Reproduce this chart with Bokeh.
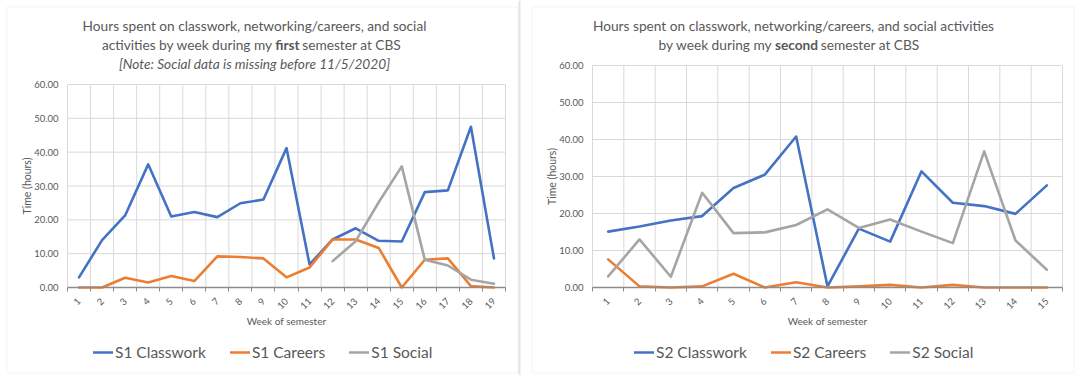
import math
from bokeh.plotting import figure
from bokeh.models import (FixedTicker, NumeralTickFormatter, Legend, LegendItem, Range1d,
                          LinearAxis, Label, BoxAnnotation)
from bokeh.embed import file_html
from bokeh.resources import INLINE

nan = float("nan")

# ---------------- data ----------------
s1_weeks = list(range(1, 20))
s1_classwork = [3.0, 14.0, 21.3, 36.4, 21.0, 22.3, 20.8, 24.9, 26.0, 41.2, 6.8, 14.2, 17.5, 13.8, 13.6, 28.2, 28.7, 47.5, 8.6]
s1_careers = [0.0, 0.0, 2.9, 1.5, 3.4, 1.9, 9.2, 9.0, 8.6, 3.0, 5.9, 14.2, 14.2, 11.7, 0.0, 8.2, 8.6, 0.4, 0.0]
s1_social = [nan, nan, nan, nan, nan, nan, nan, nan, nan, nan, nan, 7.8, 13.7, 25.2, 35.8, 8.2, 6.5, 2.3, 1.1]

s2_weeks = list(range(1, 16))
s2_classwork = [15.1, 16.5, 18.1, 19.3, 26.9, 30.5, 40.8, 0.3, 15.9, 12.4, 31.4, 22.9, 22.0, 19.9, 27.6]
s2_careers = [7.6, 0.3, 0.0, 0.3, 3.7, 0.0, 1.4, 0.0, 0.3, 0.7, 0.0, 0.7, 0.0, 0.0, 0.0]
s2_social = [3.0, 13.0, 2.9, 25.6, 14.7, 14.9, 16.9, 21.1, 16.1, 18.4, 15.1, 12.0, 36.8, 12.7, 4.8]

y_ticks = [0, 10, 20, 30, 40, 50, 60]
y_max = 60

s1_names = ["S1 Classwork", "S1 Careers", "S1 Social"]
s2_names = ["S2 Classwork", "S2 Careers", "S2 Social"]

s1_title_1 = "Hours spent on classwork, networking/careers, and social"
s1_title_2 = ["activities by week during my", "first", "semester at CBS"]
s1_title_3 = "[Note: Social data is missing before 11/5/2020]"
s2_title_1 = "Hours spent on classwork, networking/careers, and social activities"
s2_title_2 = ["by week during my", "second", "semester at CBS"]

x_label = "Week of semester"
y_label = "Time (hours)"

# ---------------- style / layout ----------------
COLORS = ["#4472C4", "#ED7D31", "#A5A5A5"]
TXT = "#595959"
GRID = "#D9D9D9"
AXIS = "#8C8C8C"
FONT = "Lato"

W, H = 1078, 375          # canvas (= frame) in px; canvas px == page px
BASE = 287                # page y of value 0 for both charts
# chart plot areas: (left px, right px, top px)
C1 = (67, 505, 84)
C2 = (592, 1062, 65)


def ranges_for(area, n):
    left, right, top = area
    ux = n / (right - left)
    xs = 0.5 - left * ux
    uy = y_max / (BASE - top)
    ys = -(H - BASE) * uy
    return Range1d(xs, xs + W * ux), Range1d(ys, ys + H * uy)


x1r, y1r = ranges_for(C1, len(s1_weeks))
x2r, y2r = ranges_for(C2, len(s2_weeks))

p = figure(width=W, height=H, frame_width=W, frame_height=H, output_backend="svg",
           toolbar_location=None, x_range=x1r, y_range=y1r,
           min_border=0, min_border_left=0, min_border_right=0, min_border_top=0, min_border_bottom=0)
p.extra_x_ranges = {"x2": x2r}
p.extra_y_ranges = {"y2": y2r}
p.outline_line_color = None
p.xgrid.visible = False
p.ygrid.visible = False
p.background_fill_color = "white"
p.border_fill_color = "white"


def style_xaxis(ax, weeks):
    n = len(weeks)
    ax.fixed_location = 0
    ax.ticker = FixedTicker(ticks=weeks, minor_ticks=[w - 0.5 for w in weeks] + [n + 0.5])
    ax.bounds = (0.5, n + 0.5)
    ax.major_label_orientation = math.pi / 4
    ax.major_tick_line_color = None
    ax.major_tick_in = 0
    ax.major_tick_out = 0
    ax.minor_tick_in = 0
    ax.minor_tick_out = 4
    ax.minor_tick_line_color = AXIS
    ax.axis_line_color = AXIS
    ax.axis_line_width = 1.3
    ax.major_label_text_font = FONT
    ax.major_label_text_font_size = "9.5px"
    ax.major_label_text_color = TXT
    ax.major_label_standoff = 8


def style_yaxis(ax):
    ax.fixed_location = 0.5
    ax.ticker = FixedTicker(ticks=y_ticks)
    ax.bounds = (0, y_max)
    ax.formatter = NumeralTickFormatter(format="0.00")
    ax.axis_line_color = None
    ax.major_tick_line_color = None
    ax.major_tick_in = 0
    ax.major_tick_out = 0
    ax.minor_tick_line_color = None
    ax.minor_tick_in = 0
    ax.minor_tick_out = 0
    ax.major_label_text_font = FONT
    ax.major_label_text_font_size = "9.5px"
    ax.major_label_text_color = TXT
    ax.major_label_standoff = 9


def draw_chart(weeks, series, names, kw, legend_x):
    n = len(weeks)
    edges = [w - 0.5 for w in weeks] + [n + 0.5]
    p.segment(x0=edges, y0=[0] * len(edges), x1=edges, y1=[y_max] * len(edges),
              line_color=GRID, line_width=1, **kw)
    p.segment(x0=[0.5] * len(y_ticks), y0=y_ticks, x1=[n + 0.5] * len(y_ticks), y1=y_ticks,
              line_color=GRID, line_width=1, **kw)
    rs = []
    for vals, col in zip(series, COLORS):
        rs.append(p.line(weeks, vals, line_color=col, line_width=2.6,
                         line_join="round", line_cap="round", **kw))
    lg = Legend(items=[LegendItem(label=nm, renderers=[r]) for nm, r in zip(names, rs)],
                orientation="horizontal", location=(legend_x, H - 361),
                label_text_font=FONT, label_text_font_size="15.5px", label_text_color=TXT,
                glyph_width=20, glyph_height=18, label_standoff=2, spacing=24,
                label_height=18, padding=0, margin=0,
                border_line_color=None, background_fill_alpha=0)
    p.add_layout(lg)


def label(text, x, y, size, align="center", style="normal", angle=0.0):
    p.add_layout(Label(x=x, y=y, x_units="canvas", y_units="canvas", text=text,
                       text_align=align, text_baseline="middle", text_font=FONT,
                       text_font_size=size, text_color=TXT, text_font_style=style, angle=angle))


# spreadsheet column line between the two panels
p.add_layout(BoxAnnotation(left=518, right=520, top=0, bottom=H,
                           left_units="canvas", right_units="canvas",
                           top_units="canvas", bottom_units="canvas",
                           fill_color="#E3E3E3", fill_alpha=1, line_color=None, level="underlay"))

# panel borders
for l, r in [(6.5, 517.5), (531.5, 1073.5)]:
    p.add_layout(BoxAnnotation(left=l, right=r, top=6.5, bottom=372.5,
                               left_units="canvas", right_units="canvas",
                               top_units="canvas", bottom_units="canvas",
                               fill_alpha=0, line_color=GRID, line_width=1, level="underlay"))

# left chart on default ranges
draw_chart(s1_weeks, [s1_classwork, s1_careers, s1_social], s1_names, {}, 93)
style_xaxis(p.xaxis[0], s1_weeks)
style_yaxis(p.yaxis[0])

# right chart on extra ranges
draw_chart(s2_weeks, [s2_classwork, s2_careers, s2_social], s2_names,
           {"x_range_name": "x2", "y_range_name": "y2"}, 634)
ax2 = LinearAxis(x_range_name="x2", y_range_name="y2")
style_xaxis(ax2, s2_weeks)
p.add_layout(ax2, "below")
ay2 = LinearAxis(x_range_name="x2", y_range_name="y2")
style_yaxis(ay2)
p.add_layout(ay2, "left")

# axis titles
label(x_label, (C1[0] + C1[1]) / 2, 320, "10px")
label(x_label, (C2[0] + C2[1]) / 2, 320, "10px")
label(y_label, 26, (C1[2] + BASE) / 2, "10.5px", angle=math.pi / 2)
label(y_label, 551, (C2[2] + BASE) / 2, "10.5px", angle=math.pi / 2)

# titles
TS = "13.7px"


def title_mixed(parts, bold_cx, bold_w, cy, gap=3.3):
    a, b, c = parts
    label(a, bold_cx - bold_w / 2 - gap, cy, TS, align="right")
    label(b, bold_cx, cy, TS, style="bold")
    label(c, bold_cx + bold_w / 2 + gap, cy, TS, align="left")


label(s1_title_1, 254, 25, TS)
title_mixed(s1_title_2, 287, 23, 44)
label(s1_title_3, 254, 63, TS, style="italic")
label(s2_title_1, 793, 25, TS)
title_mixed(s2_title_2, 796, 42, 44)

open("out.html", "w").write(file_html(p, INLINE))
